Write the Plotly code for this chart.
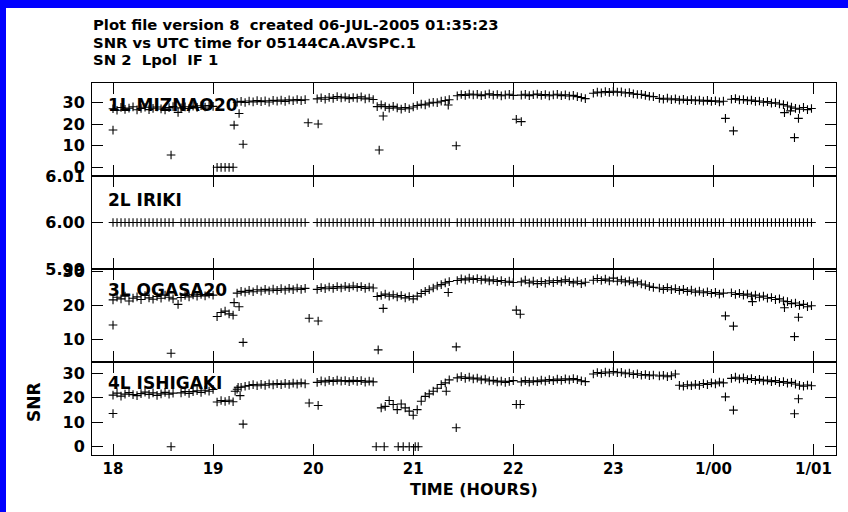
import plotly.graph_objects as go

# ---- data -------------------------------------------------------------
# UTC sample times (hours; 24 = 1/00, 25 = 1/01)
utc_hours = [
    18.00, 18.04, 18.08, 18.12, 18.16, 18.20, 18.24, 18.28, 18.32, 18.36, 18.40, 18.44, 18.48, 18.52, 18.56, 18.60,
    18.68, 18.72, 18.76, 18.80, 18.84, 18.88, 18.92, 18.96, 19.00, 19.04, 19.08, 19.12, 19.16, 19.20, 19.24, 19.28,
    19.32, 19.36, 19.40, 19.44, 19.48, 19.52, 19.56, 19.60, 19.64, 19.68, 19.72, 19.76, 19.80, 19.84, 19.88, 19.92,
    20.04, 20.08, 20.12, 20.16, 20.20, 20.24, 20.28, 20.32, 20.36, 20.40, 20.44, 20.48, 20.52, 20.56, 20.60,
    20.68, 20.72, 20.76, 20.80, 20.84, 20.88, 20.92, 20.96, 21.00, 21.04, 21.08, 21.12, 21.16, 21.20, 21.24, 21.28, 21.32, 21.36,
    21.44, 21.48, 21.52, 21.56, 21.60, 21.64, 21.68, 21.72, 21.76, 21.80, 21.84, 21.88, 21.92, 21.96, 22.00,
    22.08, 22.12, 22.16, 22.20, 22.24, 22.28, 22.32, 22.36, 22.40, 22.44, 22.48, 22.52, 22.56, 22.60, 22.64, 22.68, 22.72,
    22.80, 22.84, 22.88, 22.92, 22.96, 23.00, 23.04, 23.08, 23.12, 23.16, 23.20, 23.24, 23.28, 23.32, 23.36, 23.40,
    23.46, 23.50, 23.54, 23.58, 23.62, 23.66, 23.70, 23.74, 23.78, 23.82, 23.86, 23.90, 23.94, 23.98, 24.02, 24.06, 24.10,
    24.18, 24.22, 24.26, 24.30, 24.34, 24.38, 24.42, 24.46, 24.50, 24.54, 24.58, 24.62, 24.66, 24.70, 24.74, 24.78, 24.82, 24.86, 24.90, 24.94, 24.98,
]

mizna_snr = [
    27.2, 26.5, 27.8, 26.9, 27.5, 28.1, 26.7, 27.3, 27.9, 26.8, 27.4, 28.0, 27.1, 26.6, 27.7, 28.2,
    27.6, 28.1, 27.3, 28.4, 27.8, 28.6, 28.0, 28.7, 28.3, 0.0, 0.0, 0.0, 0.0, 0.0, 30.2, 30.6,
    30.1, 30.8, 30.4, 31.0, 30.5, 30.9, 30.3, 31.1, 30.7, 31.2, 30.6, 31.3, 30.9, 31.5, 31.0, 31.4,
    31.8, 32.3, 31.6, 32.5, 32.0, 32.8, 32.2, 32.6, 31.9, 32.4, 32.1, 32.7, 31.8, 32.2, 31.5,
    29.0, 28.2, 27.5, 28.3, 27.6, 27.0, 27.8, 27.2, 28.0, 28.7, 29.3, 29.0, 29.8, 30.2, 30.0, 30.7, 31.0, 31.4,
    33.2, 33.8, 33.4, 34.0, 33.6, 33.9, 33.3, 33.7, 34.1, 33.5, 33.8, 33.2, 33.6, 33.9, 33.4,
    33.5, 33.9, 33.3, 33.7, 34.0, 33.4, 33.8, 33.2, 33.6, 33.9, 33.3, 33.7, 33.1, 33.4, 32.8, 32.4, 31.9,
    34.4, 34.9, 34.6, 35.2, 34.8, 35.3, 34.9, 35.0, 34.5, 34.7, 34.1, 33.8, 33.9, 33.4, 33.0, 32.8,
    32.0, 31.6, 32.1, 31.4, 31.8, 31.2, 31.6, 31.0, 31.4, 30.9, 31.2, 30.7, 31.1, 30.6, 30.9, 30.4, 30.7,
    31.6, 31.9, 31.3, 31.5, 30.9, 31.2, 30.6, 30.8, 30.2, 30.5, 29.8, 30.0, 29.4, 29.1, 28.5, 28.0, 27.4, 27.0, 27.8, 26.8, 27.3,
]
mizna_extra_t = [18.00, 18.58, 18.65, 19.21, 19.26, 19.30, 19.95, 20.05, 20.64, 20.66, 20.70, 21.35, 21.43,
                 22.03, 22.08, 24.12, 24.20, 24.71, 24.77, 24.81, 24.85]
mizna_extra_v = [17.3, 5.7, 25.5, 19.6, 25.0, 10.7, 20.7, 20.1, 28.2, 8.0, 23.8, 28.9, 10.0,
                 22.3, 21.2, 22.7, 16.9, 25.4, 26.2, 13.8, 22.7]

iriki_snr = [
    6.00, 6.00, 6.00, 6.00, 6.00, 6.00, 6.00, 6.00, 6.00, 6.00, 6.00, 6.00, 6.00, 6.00, 6.00, 6.00,
    6.00, 6.00, 6.00, 6.00, 6.00, 6.00, 6.00, 6.00, 6.00, 6.00, 6.00, 6.00, 6.00, 6.00, 6.00, 6.00,
    6.00, 6.00, 6.00, 6.00, 6.00, 6.00, 6.00, 6.00, 6.00, 6.00, 6.00, 6.00, 6.00, 6.00, 6.00, 6.00,
    6.00, 6.00, 6.00, 6.00, 6.00, 6.00, 6.00, 6.00, 6.00, 6.00, 6.00, 6.00, 6.00, 6.00, 6.00,
    6.00, 6.00, 6.00, 6.00, 6.00, 6.00, 6.00, 6.00, 6.00, 6.00, 6.00, 6.00, 6.00, 6.00, 6.00, 6.00, 6.00, 6.00,
    6.00, 6.00, 6.00, 6.00, 6.00, 6.00, 6.00, 6.00, 6.00, 6.00, 6.00, 6.00, 6.00, 6.00, 6.00,
    6.00, 6.00, 6.00, 6.00, 6.00, 6.00, 6.00, 6.00, 6.00, 6.00, 6.00, 6.00, 6.00, 6.00, 6.00, 6.00, 6.00,
    6.00, 6.00, 6.00, 6.00, 6.00, 6.00, 6.00, 6.00, 6.00, 6.00, 6.00, 6.00, 6.00, 6.00, 6.00, 6.00,
    6.00, 6.00, 6.00, 6.00, 6.00, 6.00, 6.00, 6.00, 6.00, 6.00, 6.00, 6.00, 6.00, 6.00, 6.00, 6.00, 6.00,
    6.00, 6.00, 6.00, 6.00, 6.00, 6.00, 6.00, 6.00, 6.00, 6.00, 6.00, 6.00, 6.00, 6.00, 6.00, 6.00, 6.00, 6.00, 6.00, 6.00, 6.00,
]
iriki_extra_t = []
iriki_extra_v = []

ogasa_snr = [
    21.5, 22.3, 21.8, 22.6, 21.2, 22.0, 22.4, 21.6, 22.8, 22.1, 21.7, 22.5, 22.0, 22.9, 22.3, 21.8,
    22.2, 22.8, 22.4, 23.0, 22.6, 23.1, 22.7, 23.3, 22.9, 16.6, 17.8, 18.2, 17.4, 17.0, 23.5, 24.0,
    23.8, 24.3, 23.9, 24.5, 24.1, 24.6, 24.2, 24.7, 24.3, 24.8, 24.4, 24.9, 24.5, 25.0, 24.6, 24.9,
    24.6, 25.1, 24.8, 25.3, 24.9, 25.4, 25.0, 25.5, 25.1, 25.6, 25.2, 25.4, 24.9, 25.3, 25.0,
    22.8, 23.2, 22.6, 23.0, 22.4, 22.8, 22.1, 22.5, 21.8, 22.6, 23.4, 24.0, 24.5, 25.0, 25.6, 26.0, 26.5, 26.9,
    27.2, 27.7, 27.4, 27.9, 27.5, 27.8, 27.3, 27.6, 27.1, 27.4, 26.9, 27.2, 26.7, 27.0, 26.6,
    26.8, 27.3, 26.5, 27.0, 26.3, 26.9, 26.4, 27.1, 26.6, 27.2, 26.8, 27.4, 26.9, 26.5, 27.0, 26.3, 26.7,
    27.3, 27.8, 27.2, 27.6, 27.1, 27.9, 27.0, 27.4, 26.8, 27.1, 26.5, 26.8, 26.2, 25.9, 25.5, 25.2,
    25.0, 24.6, 25.1, 24.5, 24.8, 24.3, 24.6, 24.0, 24.4, 23.8, 24.1, 23.6, 23.9, 23.4, 23.7, 23.2, 23.5,
    23.6, 23.1, 23.4, 22.9, 23.2, 22.6, 22.9, 22.3, 22.6, 22.0, 22.2, 21.6, 21.8, 21.2, 21.0, 20.4, 20.6, 19.9, 20.2, 19.5, 19.8,
]
ogasa_extra_t = [18.00, 18.58, 18.65, 19.21, 19.26, 19.30, 19.96, 20.05, 20.64, 20.65, 20.70, 21.35, 21.43,
                 22.03, 22.07, 24.12, 24.20, 24.39, 24.71, 24.81, 24.85]
ogasa_extra_v = [14.1, 5.8, 20.2, 20.7, 19.5, 9.0, 16.1, 15.3, 22.5, 6.8, 19.0, 23.7, 7.7,
                 18.5, 17.3, 16.8, 13.8, 21.0, 19.2, 10.7, 16.4]

ishig_snr = [
    21.0, 21.8, 20.6, 21.4, 22.0, 21.2, 20.8, 21.6, 22.2, 21.3, 21.9, 20.9, 21.5, 22.1, 21.4, 21.8,
    21.9, 22.5, 21.7, 22.4, 22.8, 22.1, 23.0, 22.6, 23.3, 18.2, 18.8, 18.4, 18.9, 18.3, 23.4, 24.2,
    24.6, 24.9, 25.3, 24.8, 25.4, 25.0, 25.6, 25.2, 25.7, 25.3, 25.8, 25.4, 25.9, 25.5, 26.0, 25.6,
    26.2, 26.8, 26.4, 27.0, 26.6, 27.1, 26.7, 26.9, 26.5, 27.0, 26.6, 26.9, 26.3, 26.7, 26.4,
    15.8, 16.4, 18.8, 17.2, 15.1, 17.4, 15.8, 14.5, 12.8, 15.1, 18.5, 20.5, 21.5, 22.6, 23.8, 25.3, 26.0, 27.2,
    28.0, 28.5, 27.8, 28.3, 27.6, 27.9, 27.2, 27.5, 26.8, 27.0, 26.4, 26.7, 26.2, 26.6, 26.9,
    26.4, 26.9, 26.3, 26.8, 26.5, 27.1, 26.7, 27.3, 26.9, 27.5, 27.0, 27.6, 27.2, 27.7, 27.3, 26.8, 26.5,
    29.6, 30.2, 29.8, 30.4, 30.0, 30.6, 30.1, 30.3, 29.7, 30.0, 29.4, 29.7, 29.1, 29.4, 28.9, 29.2,
    28.8, 29.1, 28.5, 28.9, 29.6, 25.0, 24.6, 25.2, 24.8, 25.4, 25.0, 25.7, 25.3, 26.0, 25.6, 26.3, 26.0,
    27.8, 28.3, 27.6, 28.0, 27.3, 27.7, 27.0, 27.4, 26.8, 27.1, 26.5, 26.9, 26.2, 26.5, 25.9, 26.2, 25.5, 25.0, 24.6, 25.1, 24.8,
]
ishig_extra_t = [18.00, 18.58, 19.22, 19.25, 19.27, 19.30, 19.96, 20.05, 20.63, 20.71, 20.85, 20.90, 20.96,
                 21.02, 21.05, 21.33, 21.43, 22.03, 22.07, 24.12, 24.20, 24.81, 24.85]
ishig_extra_v = [13.5, 0.0, 22.6, 24.2, 20.8, 9.2, 17.8, 16.8, 0.0, 0.0, 0.0, 0.0, 0.0,
                 0.0, 0.0, 22.6, 7.7, 17.2, 17.2, 20.3, 14.9, 13.4, 19.5]

station_labels = ["1L MIZNAO20", "2L IRIKI", "3L OGASA20", "4L ISHIGAKI"]
hour_ticks = [18, 19, 20, 21, 22, 23, 24, 25]
hour_tick_text = ["18", "19", "20", "21", "22", "23", "1/00", "1/01"]
title_lines = [
    "Plot file version 8  created 06-JUL-2005 01:35:23",
    "SNR vs UTC time for 05144CA.AVSPC.1",
    "SN 2  Lpol  IF 1",
]

# ---- figure -----------------------------------------------------------
W, H = 848, 512
ML, MR, MT, MB = 92, 12, 83, 57
PW, PH = W - ML - MR, H - MT - MB

def px_x(x):
    return (x - ML) / PW

def px_y(y):
    return (H - MB - y) / PH

FONT = "DejaVu Sans"
BLACK = "#000000"

panels = [
    (mizna_snr, mizna_extra_t, mizna_extra_v, [-4.04, 39.15], [0, 10, 20, 30], ["0", "10", "20", "30"]),
    (iriki_snr, iriki_extra_t, iriki_extra_v, [5.99, 6.01], [5.99, 6.00, 6.01], ["5.99", "6.00", "6.01"]),
    (ogasa_snr, ogasa_extra_t, ogasa_extra_v, [3.24, 30.59], [10, 20, 30], ["10", "20", "30"]),
    (ishig_snr, ishig_extra_t, ishig_extra_v, [-3.38, 34.48], [0, 10, 20, 30], ["0", "10", "20", "30"]),
]

fig = go.Figure()
marker = dict(symbol="cross-thin", size=6.2, color=BLACK, line=dict(color=BLACK, width=1.1))
tickfont = dict(family=FONT, size=15, color=BLACK, weight="bold")

layout = dict(
    width=W, height=H,
    margin=dict(l=ML, r=MR, t=MT, b=MB, pad=0),
    paper_bgcolor="white", plot_bgcolor="white",
    showlegend=False,
)

n = len(panels)
for i, (vals, xt, xv, yrange, yticks, ytext) in enumerate(panels, start=1):
    assert len(vals) == len(utc_hours)
    xa, ya = f"x{i}", f"y{i}"
    fig.add_trace(go.Scatter(x=utc_hours, y=vals, mode="markers", marker=marker,
                             xaxis=xa, yaxis=ya, hoverinfo="skip"))
    if xt:
        fig.add_trace(go.Scatter(x=xt, y=xv, mode="markers", marker=marker,
                                 xaxis=xa, yaxis=ya, hoverinfo="skip"))
    top = 1 - (i - 1) / n
    bot = 1 - i / n
    layout[f"xaxis{i}"] = dict(
        domain=[0, 1], anchor=ya, range=[17.79, 25.225],
        tickmode="array", tickvals=hour_ticks, ticktext=hour_tick_text,
        ticks="inside", ticklen=11, tickwidth=1, tickcolor=BLACK,
        showline=True, linecolor=BLACK, linewidth=1, mirror="ticks",
        showgrid=False, zeroline=False, showticklabels=(i == n),
        tickfont=tickfont,
    )
    layout[f"yaxis{i}"] = dict(
        domain=[bot, top], anchor=xa, range=yrange,
        tickmode="array", tickvals=yticks, ticktext=ytext,
        ticks="inside", ticklen=11, tickwidth=1, tickcolor=BLACK,
        showline=True, linecolor=BLACK, linewidth=1, mirror="ticks",
        showgrid=False, zeroline=False, tickfont=dict(tickfont, size=16),
        ticklabelstandoff=3,
    )

annotations = []
title_y_px = [25, 42, 59]
for txt, ypx in zip(title_lines, title_y_px):
    annotations.append(dict(text=txt, xref="paper", yref="paper", x=px_x(91), y=px_y(ypx),
                            xanchor="left", yanchor="middle", showarrow=False,
                            font=dict(family=FONT, size=14.8, color=BLACK, weight="bold")))
label_y_px = [105, 200, 290, 383]
for txt, ypx in zip(station_labels, label_y_px):
    annotations.append(dict(text=txt, xref="paper", yref="paper", x=px_x(106), y=px_y(ypx),
                            xanchor="left", yanchor="middle", showarrow=False,
                            font=dict(family=FONT, size=17, color=BLACK, weight="bold")))
annotations.append(dict(text="TIME (HOURS)", xref="paper", yref="paper", x=px_x(474), y=px_y(490),
                        xanchor="center", yanchor="middle", showarrow=False,
                        font=dict(family=FONT, size=16, color=BLACK, weight="bold")))
annotations.append(dict(text="SNR", xref="paper", yref="paper", x=px_x(34), y=px_y(402),
                        xanchor="center", yanchor="middle", showarrow=False, textangle=-90,
                        font=dict(family=FONT, size=17, color=BLACK, weight="bold")))
layout["annotations"] = annotations

# blue window frame along the top and left edges
BLUE = "#0000ff"
layout["shapes"] = [
    dict(type="rect", xref="paper", yref="paper", x0=px_x(0), x1=px_x(W), y0=px_y(8), y1=px_y(0),
         fillcolor=BLUE, line=dict(width=0), layer="below"),
    dict(type="rect", xref="paper", yref="paper", x0=px_x(0), x1=px_x(6), y0=px_y(H), y1=px_y(0),
         fillcolor=BLUE, line=dict(width=0), layer="below"),
]

fig.update_layout(**layout)
fig.write_html("out.html")
